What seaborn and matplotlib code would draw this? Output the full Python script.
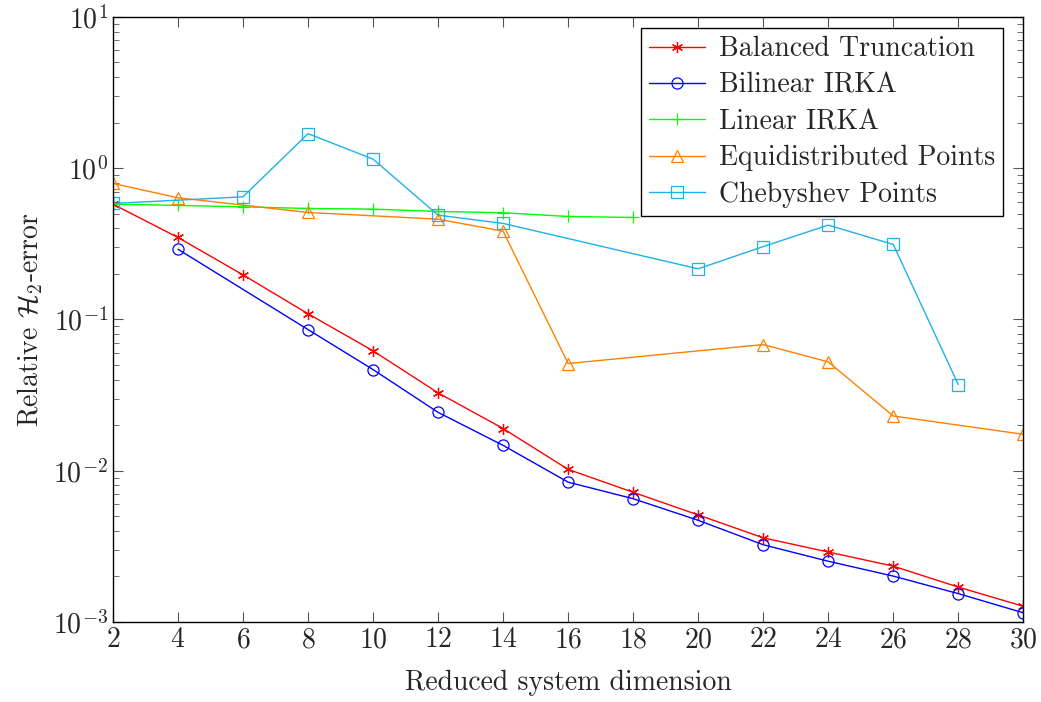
import numpy as np
import pandas as pd
import seaborn as sns
import matplotlib.pyplot as plt
from matplotlib.ticker import LogLocator, NullFormatter

# reduced dimensions and relative H2 errors
bt_x = [2, 4, 6, 8, 10, 12, 14, 16, 18, 20, 22, 24, 26, 28, 30]
bt_y = [0.578, 0.348, 0.197, 0.109, 0.062, 0.0327, 0.019, 0.0102, 0.0072,
        0.0051, 0.0036, 0.0029, 0.00234, 0.0017, 0.00127]

birka_x = [4, 8, 10, 12, 14, 16, 18, 20, 22, 24, 26, 28, 30]
birka_y = [0.291, 0.0857, 0.0466, 0.0243, 0.0147, 0.0084, 0.00653, 0.0047,
           0.00324, 0.00252, 0.00201, 0.00154, 0.00115]

lirka_x = [2, 4, 6, 8, 10, 12, 14, 16, 18]
lirka_y = [0.578, 0.567, 0.555, 0.541, 0.536, 0.517, 0.507, 0.479, 0.472]

equi_x = [2, 4, 8, 12, 14, 16, 22, 24, 26, 30]
equi_y = [0.792, 0.637, 0.509, 0.460, 0.383, 0.0511, 0.0682, 0.0524, 0.023, 0.0174]

cheb_x = [2, 6, 8, 10, 12, 14, 20, 22, 24, 26, 28]
cheb_y = [0.584, 0.646, 1.69, 1.147, 0.489, 0.431, 0.216, 0.303, 0.42, 0.313, 0.0371]

series = [
    ("Balanced Truncation", bt_x, bt_y, "#ff0000", (6, 2, 0)),
    ("Bilinear IRKA", birka_x, birka_y, "#0000ff", "o"),
    ("Linear IRKA", lirka_x, lirka_y, "#00ff00", "+"),
    ("Equidistributed Points", equi_x, equi_y, "#ff8000", "^"),
    ("Chebyshev Points", cheb_x, cheb_y, "#1db2ea", "s"),
]

sns.set_theme(style="ticks")
plt.rcParams["font.family"] = "serif"
plt.rcParams["font.serif"] = ["cmr10", "DejaVu Serif"]
plt.rcParams["mathtext.fontset"] = "cm"
plt.rcParams["axes.unicode_minus"] = False
plt.rcParams["axes.formatter.use_mathtext"] = True

fs = 20

fig = plt.figure(figsize=(10.41, 7.02), dpi=100)
ax = fig.add_axes([0.1085, 0.114, 0.8745, 0.862])

for name, xs, ys, col, mk in series:
    df = pd.DataFrame({"dim": xs, "err": ys})
    sns.lineplot(data=df, x="dim", y="err", ax=ax, color=col, marker=mk,
                 markersize=8, markerfacecolor="none", markeredgecolor=col,
                 markeredgewidth=0.9, linewidth=1.0, label=name)

ax.set_yscale("log")
ax.set_ylim(1e-3, 1e1)
ax.set_xlim(2, 30)
ax.set_xticks(np.arange(2, 31, 2))
ax.yaxis.set_major_locator(LogLocator(base=10, numticks=10))
ax.yaxis.set_minor_locator(LogLocator(base=10, subs=np.arange(2, 10), numticks=20))
ax.yaxis.set_minor_formatter(NullFormatter())

ax.tick_params(which="both", direction="in", top=True, right=True,
               labelsize=fs, color="#555555")
ax.tick_params(which="major", length=7, width=0.8)
ax.tick_params(which="minor", length=4, width=0.6)
for sp in ax.spines.values():
    sp.set_linewidth(1.0)
    sp.set_color("black")

ax.set_xlabel("Reduced system dimension", fontsize=fs, labelpad=12)
ax.set_ylabel(r"Relative $\mathcal{H}_2$-error", fontsize=fs, labelpad=6)

leg = ax.legend(loc="upper right", bbox_to_anchor=(0.978, 0.982),
                fontsize=fs, frameon=True, fancybox=False,
                edgecolor="black", framealpha=1, handlelength=2.0,
                borderpad=0.3, labelspacing=0.36, handletextpad=0.5,
                borderaxespad=0)
leg.get_frame().set_linewidth(1.0)

fig.savefig("out.png", dpi=100)
